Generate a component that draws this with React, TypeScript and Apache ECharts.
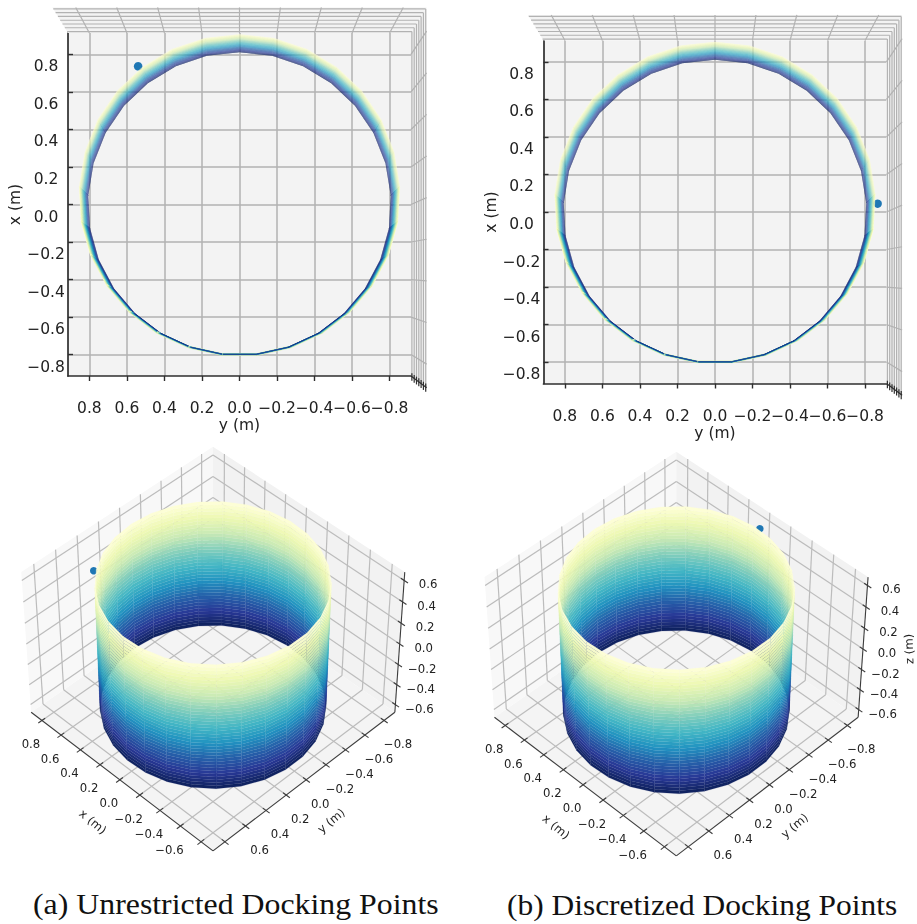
import React, { useEffect, useRef } from "react";
import * as echarts from "echarts";

// ---------- values ----------
const planTicks = [-0.8, -0.6, -0.4, -0.2, 0.0, 0.2, 0.4, 0.6, 0.8];
const heightTicks = [-0.6, -0.4, -0.2, 0.0, 0.2, 0.4, 0.6];
const xLabelTicks3d = [0.8, 0.6, 0.4, 0.2, 0.0, -0.2, -0.4, -0.6];
const yLabelTicks3d = [-0.8, -0.6, -0.4, -0.2, 0.0, 0.2, 0.4, 0.6];
const planBound = 0.914;
const heightBound = 0.677;
const cylinderRadius = 0.8;
const thetaDeg = [0, 12.41, 24.83, 37.24, 49.66, 62.07, 74.48, 86.9, 99.31, 111.72, 124.14, 136.55, 148.97, 161.38, 173.79, 186.21, 198.62, 211.03, 223.45, 235.86, 248.28, 260.69, 273.1, 285.52, 297.93, 310.34, 322.76, 335.17, 347.59, 360];
const zLevels = [-0.6, -0.57, -0.54, -0.51, -0.48, -0.45, -0.42, -0.39, -0.36, -0.33, -0.3, -0.27, -0.24, -0.21, -0.18, -0.15, -0.12, -0.09, -0.06, -0.03, 0, 0.03, 0.06, 0.09, 0.12, 0.15, 0.18, 0.21, 0.24, 0.27, 0.3, 0.33, 0.36, 0.39, 0.42, 0.45, 0.48, 0.51, 0.54, 0.57, 0.6];
const dockingPointA = [0.64, 0.505, 0.6];
const dockingPointB = [-0.007, -0.81, 0.6];
const colormapStops = ["#081d58", "#253494", "#225ea8", "#1d91c0", "#41b6c4", "#7fcdbb", "#c7e9b4", "#edf8b1", "#ffffd9"];
const captionA = "(a) Unrestricted Docking Points";
const captionB = "(b) Discretized Docking Points";

// ---------- colours ----------
const FONT = "DejaVu Sans";
const INK = "#222222";
const AXIS = "#2e2e2e";
const GRID = "#b2b2b2";
const GRID_3D = "#bcbcbc";
const PANE = "#f3f3f3";
const MARK = "#1f77b4";

const fmt = (v: number) => v.toFixed(1).replace("-", "\u2212");
const rad = (d: number) => (d * Math.PI) / 180;

function hexRgb(h: string) {
  return [1, 3, 5].map((i) => parseInt(h.slice(i, i + 2), 16));
}
function colormap(t: number) {
  const p = Math.max(0, Math.min(0.99999, t)) * (colormapStops.length - 1);
  const i = Math.floor(p);
  const a = hexRgb(colormapStops[i]);
  const b = hexRgb(colormapStops[i + 1]);
  const c = a.map((v, k) => Math.round(v + (b[k] - v) * (p - i)));
  return `rgb(${c[0]},${c[1]},${c[2]})`;
}
const bandColors = zLevels.slice(0, -1).map((_, i) => colormap((i + 0.5) / (zLevels.length - 1)));

// ---------- view transforms ----------
type P3 = [number, number, number];

// oblique 3D view: elevation 45, azimuth 135, weak perspective
function camera(p: P3) {
  const X = p[0] / (2 * planBound);
  const Y = p[1] / (2 * planBound);
  const Z = (p[2] / heightBound) * 0.375;
  const d = -0.5 * X + 0.5 * Y + 0.7071 * Z;
  const w = 1 / (1 - d / 10);
  return { u: w * (-0.7071 * X - 0.7071 * Y), v: w * (0.5 * X - 0.5 * Y + 0.7071 * Z), d };
}
const cam = (p: P3): [number, number] => {
  const c = camera(p);
  return [c.u, c.v];
};

// near-plan view of the surface, horizontal = y, vertical = x
function planSurface(p: P3): [number, number] {
  const s = 1.009 + 0.0508 * (p[2] + 0.6);
  const t = 0.004 + 0.04 * (p[2] + 0.6);
  return [p[1] * s, p[0] * s + t];
}
// near-plan view of the panes: lerp from the frame out to their flared edge
function planWall(p: P3): [number, number] {
  const f = (p[2] + heightBound) / (2 * heightBound);
  return [p[1] * (1 + 0.091 * f), p[0] * (1 + 0.109 * f) + 0.0365 * f];
}

const ringPoint = (deg: number, z: number): P3 => [
  cylinderRadius * Math.cos(rad(deg)),
  cylinderRadius * Math.sin(rad(deg)),
  z,
];

// ---------- mark builders ----------
function quadSeries(xi: number, rows: number[][], fills: string[], z: number) {
  return {
    type: "custom",
    xAxisIndex: xi,
    yAxisIndex: xi,
    silent: true,
    progressive: 0,
    z,
    data: rows,
    renderItem: (_: any, api: any) => {
      const pts = [0, 2, 4, 6].map((i) => api.coord([api.value(i), api.value(i + 1)]));
      const fill = fills[api.value(8)];
      const edge = api.value(9);
      const opacity = api.value(10);
      return {
        type: "polygon",
        shape: { points: pts },
        style: edge > 0 ? { fill, opacity, stroke: fill, lineWidth: edge } : { fill, opacity },
      };
    },
  };
}
function lineSeries(xi: number, rows: number[][], styles: { stroke: string; lineWidth: number }[], z: number) {
  return {
    type: "custom",
    xAxisIndex: xi,
    yAxisIndex: xi,
    silent: true,
    progressive: 0,
    z,
    data: rows,
    renderItem: (_: any, api: any) => {
      const a = api.coord([api.value(0), api.value(1)]);
      const b = api.coord([api.value(2), api.value(3)]);
      return {
        type: "line",
        shape: { x1: a[0], y1: a[1], x2: b[0], y2: b[1] },
        style: { ...styles[api.value(4)], fill: "none" },
      };
    },
  };
}
function textSeries(xi: number, rows: number[][], texts: string[], z: number) {
  return {
    type: "custom",
    xAxisIndex: xi,
    yAxisIndex: xi,
    silent: true,
    progressive: 0,
    z,
    data: rows,
    renderItem: (_: any, api: any) => {
      const a = api.coord([api.value(0), api.value(1)]);
      return {
        type: "text",
        x: a[0] + api.value(2),
        y: a[1] + api.value(3),
        rotation: rad(api.value(5)),
        style: {
          text: texts[api.value(4)],
          fontSize: 11.7,
          fontFamily: FONT,
          fill: INK,
          align: "center",
          verticalAlign: "middle",
        },
      };
    },
  };
}
const seg = (f: (p: P3) => [number, number], a: P3, b: P3, style: number) => [...f(a), ...f(b), style];
const quad = (f: (p: P3) => [number, number], ps: P3[], fill: number, edge = 0, opacity = 1) => [
  ...ps.flatMap((p) => f(p)),
  fill,
  edge,
  opacity,
];

// ---------- plan panel ----------
function planPanel(xi: number, dock: number[], markSize: number) {
  const B = planBound;
  const H = heightBound;
  const wallRows = [
    quad(planWall, [[B, -B, -H], [B, B, -H], [B, B, H], [B, -B, H]], 0),
    quad(planWall, [[-B, -B, -H], [B, -B, -H], [B, -B, H], [-B, -B, H]], 0),
  ];
  const lines: number[][] = [];
  for (const t of planTicks) {
    lines.push(seg(planWall, [B, t, -H], [B, t, H], 0));
    lines.push(seg(planWall, [t, -B, -H], [t, -B, H], 0));
  }
  for (const z of heightTicks) {
    lines.push(seg(planWall, [B, -B, z], [B, B, z], 0));
    lines.push(seg(planWall, [-B, -B, z], [B, -B, z], 0));
    lines.push(seg(planWall, [-B + 0.018, -B, z], [-B - 0.022, -B, z], 1));
  }
  lines.push(seg(planWall, [-B, -B, -H], [-B, -B, H], 1));
  const bands: number[][] = [];
  const lastBand = zLevels.length - 2;
  // On the far (top of picture) side the bands fan out; on the near side they collapse
  // into a thin edge, where translucent blues lie over a pale fringe.
  for (let i = 0; i < thetaDeg.length - 1; i++) {
    const cosMid = Math.cos(rad((thetaDeg[i] + thetaDeg[i + 1]) / 2));
    const near = cosMid < 0;
    const opacity = near ? 0.9 + 0.75 * cosMid : 0.92;
    for (let n = 0; n <= lastBand; n++) {
      const k = near ? lastBand - n : n;
      const edge = near ? -cosMid * (0.15 + (2.6 * k) / lastBand) : 0;
      bands.push(
        quad(
          planSurface,
          [
            ringPoint(thetaDeg[i], zLevels[k]),
            ringPoint(thetaDeg[i + 1], zLevels[k]),
            ringPoint(thetaDeg[i + 1], zLevels[k + 1]),
            ringPoint(thetaDeg[i], zLevels[k + 1]),
          ],
          k,
          edge,
          opacity
        )
      );
    }
  }
  return [
    quadSeries(xi, wallRows, [PANE], 1),
    lineSeries(xi, lines, [{ stroke: GRID, lineWidth: 1.2 }, { stroke: AXIS, lineWidth: 1.2 }], 1),
    {
      type: "scatter",
      xAxisIndex: xi,
      yAxisIndex: xi,
      silent: true,
      z: 2,
      symbolSize: markSize,
      itemStyle: { color: MARK, opacity: 1 },
      data: [planSurface(dock as P3)],
    },
    quadSeries(xi, bands, bandColors, 3),
  ];
}

// ---------- oblique panel ----------
function obliquePanel(xi: number, dock: number[], withZName: boolean) {
  const B = planBound;
  const H = heightBound;
  const panes = [
    quad(cam, [[-B, -B, -H], [B, -B, -H], [B, B, -H], [-B, B, -H]], 0),
    quad(cam, [[B, -B, -H], [B, B, -H], [B, B, H], [B, -B, H]], 1),
    quad(cam, [[-B, -B, -H], [B, -B, -H], [B, -B, H], [-B, -B, H]], 2),
  ];
  const grid: number[][] = [];
  for (const t of planTicks) {
    grid.push(seg(cam, [t, -B, -H], [t, B, -H], 0));
    grid.push(seg(cam, [-B, t, -H], [B, t, -H], 0));
    grid.push(seg(cam, [B, t, -H], [B, t, H], 0));
    grid.push(seg(cam, [t, -B, -H], [t, -B, H], 0));
  }
  for (const z of heightTicks) {
    grid.push(seg(cam, [B, -B, z], [B, B, z], 0));
    grid.push(seg(cam, [-B, -B, z], [B, -B, z], 0));
  }
  const frame: number[][] = [
    seg(cam, [B, B, -H], [-B, B, -H], 0),
    seg(cam, [-B, B, -H], [-B, -B, -H], 0),
    seg(cam, [-B, -B, -H], [-B, -B, H], 0),
  ];
  for (const t of planTicks) {
    frame.push(seg(cam, [t, B - 0.03, -H], [t, B + 0.035, -H], 0));
    frame.push(seg(cam, [-B + 0.03, t, -H], [-B - 0.035, t, -H], 0));
  }
  for (const z of heightTicks) {
    frame.push(seg(cam, [-B + 0.03, -B, z], [-B - 0.035, -B, z], 0));
  }
  const quads: { row: number[]; d: number }[] = [];
  for (let k = 0; k < zLevels.length - 1; k++) {
    for (let i = 0; i < thetaDeg.length - 1; i++) {
      const ps: P3[] = [
        ringPoint(thetaDeg[i], zLevels[k]),
        ringPoint(thetaDeg[i + 1], zLevels[k]),
        ringPoint(thetaDeg[i + 1], zLevels[k + 1]),
        ringPoint(thetaDeg[i], zLevels[k + 1]),
      ];
      const d = ps.reduce((acc, p) => acc + camera(p).d, 0) / 4;
      quads.push({ row: quad(cam, ps, k, 0.15, 0.98), d });
    }
  }
  quads.sort((a, b) => a.d - b.d);

  const texts: string[] = [];
  const labels: number[][] = [];
  const addLabel = (p: P3, dx: number, dy: number, s: string, rot = 0) => {
    const c = cam(p);
    labels.push([c[0], c[1], dx, dy, texts.length, rot]);
    texts.push(s);
  };
  xLabelTicks3d.forEach((t) => addLabel([t, B, -H], -11, 23.5, fmt(t)));
  yLabelTicks3d.forEach((t) => addLabel([-B, t, -H], 14, 24, fmt(t)));
  heightTicks.forEach((t) => addLabel([-B, -B, t], 24, 4, fmt(t)));
  addLabel([0, B, -H], -27, 42, "x (m)", -40);
  addLabel([-B, 0, -H], 25, 41, "y (m)", 40);
  if (withZName) addLabel([-B, -B, 0], 46, 0, "z (m)", 92);

  return [
    quadSeries(xi, panes, ["#f4f4f4", "#f8f8f8", "#f2f2f2"], 1),
    lineSeries(xi, grid, [{ stroke: GRID_3D, lineWidth: 1.2 }], 1),
    {
      type: "scatter",
      xAxisIndex: xi,
      yAxisIndex: xi,
      silent: true,
      z: 2,
      symbolSize: 7.5,
      itemStyle: { color: MARK, opacity: 1 },
      data: [cam(dock as P3)],
    },
    quadSeries(xi, quads.map((q) => q.row), bandColors, 3),
    lineSeries(xi, frame, [{ stroke: "#3c3c3c", lineWidth: 1.1 }], 4),
    textSeries(xi, labels, texts, 5),
  ];
}

// ---------- axes ----------
function planAxis(gridIndex: number, name: string, inverse: boolean, isX: boolean) {
  return {
    type: "value",
    gridIndex,
    min: -planBound,
    max: planBound,
    inverse,
    name,
    nameLocation: "middle",
    nameGap: isX ? 41 : 36,
    nameRotate: isX ? 0 : 90,
    nameTextStyle: { fontFamily: FONT, fontSize: 15.5, color: INK },
    axisLine: { show: true, onZero: false, lineStyle: { color: AXIS, width: 1.7 } },
    axisTick: {
      show: true,
      inside: !isX,
      length: 5,
      customValues: planTicks,
      lineStyle: { color: AXIS, width: 1.4 },
    },
    axisLabel: {
      show: true,
      customValues: planTicks,
      formatter: (v: number) => fmt(v),
      fontFamily: FONT,
      fontSize: 15.5,
      color: INK,
      margin: isX ? 24 : 22,
      hideOverlap: false,
      showMinLabel: true,
      showMaxLabel: true,
      ...(isX ? {} : { align: "center", verticalAlign: "top", padding: [4, 0, 0, 0] }),
    },
    splitLine: { show: true, lineStyle: { color: GRID, width: 1.5 } },
  };
}
const hiddenAxis = (gridIndex: number) => ({
  type: "value",
  gridIndex,
  show: false,
  min: -0.8,
  max: 0.8,
  splitLine: { show: false },
});

const OBLIQUE_SIZE = 422.4;

export default function App() {
  const ref = useRef<HTMLDivElement>(null);
  const capRef = useRef<HTMLDivElement>(null);
  useEffect(() => {
    const chart = echarts.init(ref.current!, null, { renderer: "svg" });
    chart.setOption({
      animation: false,
      grid: [
        { left: 68, top: 33, width: 343, height: 343, show: true, backgroundColor: PANE, borderWidth: 0 },
        { left: 543.5, top: 40.5, width: 343, height: 343, show: true, backgroundColor: PANE, borderWidth: 0 },
        { left: 1.8, top: 432.8, width: OBLIQUE_SIZE, height: OBLIQUE_SIZE },
        { left: 465.1, top: 437.8, width: OBLIQUE_SIZE, height: OBLIQUE_SIZE },
      ],
      xAxis: [planAxis(0, "y (m)", true, true), planAxis(1, "y (m)", true, true), hiddenAxis(2), hiddenAxis(3)],
      yAxis: [planAxis(0, "x (m)", false, false), planAxis(1, "x (m)", false, false), hiddenAxis(2), hiddenAxis(3)],
      series: [
        ...planPanel(0, dockingPointA, 8.5),
        ...planPanel(1, dockingPointB, 8.5),
        ...obliquePanel(2, dockingPointA, false),
        ...obliquePanel(3, dockingPointB, true),
      ],
    });
    const captions = echarts.init(capRef.current!, null, { renderer: "svg" });
    captions.setOption({
      animation: false,
      graphic: [
        {
          type: "text",
          x: 33,
          y: 905,
          scaleX: 1.117,
          style: { text: captionA, fontFamily: "Liberation Serif", fontSize: 28.5, fill: "#111111", verticalAlign: "middle" },
        },
        {
          type: "text",
          x: 507,
          y: 905,
          scaleX: 1.103,
          style: { text: captionB, fontFamily: "Liberation Serif", fontSize: 28.5, fill: "#111111", verticalAlign: "middle" },
        },
      ],
    });
    return () => {
      chart.dispose();
      captions.dispose();
    };
  }, []);
  return (
    <div style={{ position: "absolute", left: 0, top: 0, width: 917, height: 924, background: "#ffffff" }}>
      <div ref={ref} style={{ position: "absolute", left: 0, top: 0, width: 917, height: 924, filter: "blur(0.55px)" }} />
      <div ref={capRef} style={{ position: "absolute", left: 0, top: 0, width: 917, height: 924, pointerEvents: "none" }} />
    </div>
  );
}
